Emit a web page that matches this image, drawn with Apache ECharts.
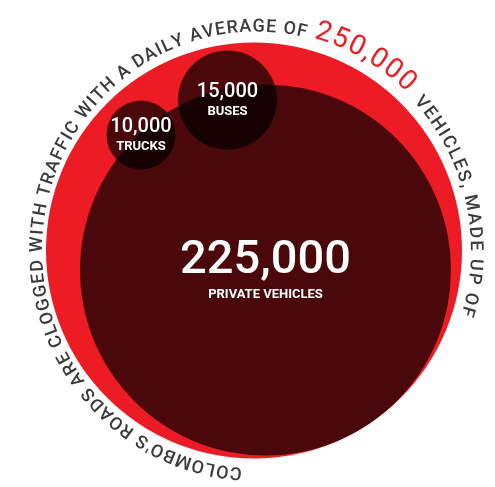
<!DOCTYPE html>
<html>
<head>
<meta charset="utf-8">
<script src="https://cdn.jsdelivr.net/npm/echarts@6/dist/echarts.min.js"></script>
<style>
html, body { margin: 0; padding: 0; background: #fff; }
#main { width: 495px; height: 487px; }
</style>
</head>
<body>
<div id="main"></div>
<script>
// data
var categories = ['PRIVATE VEHICLES', 'BUSES', 'TRUCKS'];
var values = [225000, 15000, 10000];
var totalValue = 250000;
var ringLead = "COLOMBO'S ROADS ARE CLOGGED WITH TRAFFIC WITH A DAILY AVERAGE OF";
var ringTail = 'VEHICLES, MADE UP OF';

// layout in pixels
var totalCircle = {x: 254, y: 250.5, r: 208};
var partCircles = [
    {x: 265.5, y: 270, r: 185.5, num: 47, name: 13},
    {x: 227.5, y: 100, r: 49.5, num: 20, name: 13},
    {x: 141, y: 135, r: 34.5, num: 20, name: 13}
];
var ring = {cx: 256.5, cy: 250, rx: 213, ry: 217};

var fmt = function (v) { return v.toLocaleString('en-US'); };

var chart = echarts.init(document.getElementById('main'));

var measure = document.createElement('canvas').getContext('2d');

// lay characters along the ring between two angles (degrees, clockwise from top)
function arcText(text, from, to, font, color, lift) {
    measure.font = font;
    var chars = text.split('');
    var widths = chars.map(function (c) { return measure.measureText(c).width + 1.5; });
    var total = widths.reduce(function (a, b) { return a + b; }, 0);
    var k = (to - from) / total;
    var acc = 0;
    var out = [];
    chars.forEach(function (c, i) {
        var th = (from + (acc + widths[i] / 2) * k) * Math.PI / 180;
        acc += widths[i];
        if (c === ' ') return;
        out.push({
            type: 'text',
            x: ring.cx + (ring.rx + lift) * Math.sin(th),
            y: ring.cy - (ring.ry + lift) * Math.cos(th),
            rotation: -th,
            silent: true,
            style: {
                text: c,
                font: font,
                fill: color,
                align: 'center',
                verticalAlign: 'middle',
                textAlign: 'center',
                textVerticalAlign: 'middle'
            }
        });
    });
    return out;
}

var ringText = []
    .concat(arcText(ringLead, 183.7, 373.4, '500 18px Roboto', '#3b3b3b', 6))
    .concat(arcText(fmt(totalValue), 375.2, 404.4, '28px Roboto', '#ED1C24', 10))
    .concat(arcText(ringTail, 407, 467.5, '500 18px Roboto', '#3b3b3b', 6));

var partData = values.map(function (v, i) {
    var p = partCircles[i];
    return {
        name: categories[i],
        value: [p.x, p.y, v],
        symbolSize: p.r * 2,
        label: {
            rich: {
                n: {fontSize: p.num, lineHeight: p.num + 3, color: '#fff', fontWeight: 500, fontFamily: 'Roboto'},
                t: {fontSize: p.name, lineHeight: p.name + 4, color: '#fff', fontWeight: 'bold', fontFamily: 'Roboto'}
            }
        }
    };
});

var option = {
    animation: false,
    grid: {left: 0, right: 0, top: 0, bottom: 0},
    xAxis: {type: 'value', min: 0, max: 495, show: false},
    yAxis: {type: 'value', min: 0, max: 487, inverse: true, show: false},
    graphic: ringText,
    series: [
        {
            type: 'scatter',
            symbol: 'circle',
            silent: true,
            data: [{name: 'TOTAL', value: [totalCircle.x, totalCircle.y, totalValue], symbolSize: totalCircle.r * 2}],
            itemStyle: {color: '#ED1C24', opacity: 1},
            z: 1
        },
        {
            type: 'scatter',
            symbol: 'circle',
            silent: true,
            data: partData,
            itemStyle: {color: 'rgba(0,0,0,0.69)', opacity: 1},
            label: {
                show: true,
                position: 'inside',
                formatter: function (p) {
                    return '{n|' + fmt(p.value[2]) + '}\n{t|' + p.name + '}';
                }
            },
            z: 2
        }
    ]
};

chart.setOption(option);
</script>
</body>
</html>
